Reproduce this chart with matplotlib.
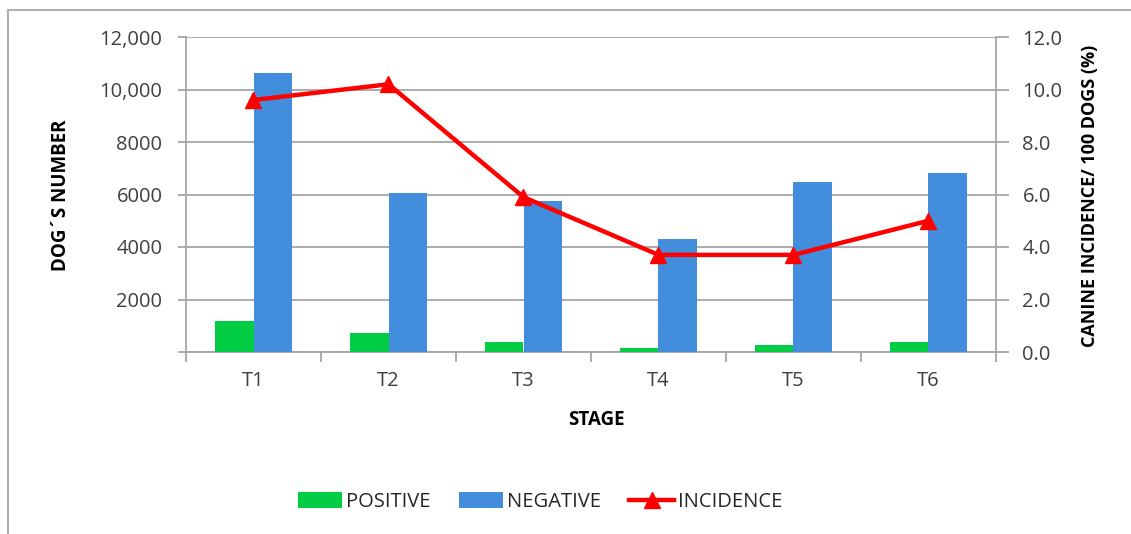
import matplotlib
matplotlib.use("Agg")
import matplotlib.pyplot as plt
import numpy as np
from matplotlib.lines import Line2D
from matplotlib.patches import Patch
from matplotlib.ticker import FixedLocator, FixedFormatter

stages = ["T1", "T2", "T3", "T4", "T5", "T6"]
positive = [1170, 740, 380, 170, 270, 380]
negative = [10640, 6060, 5760, 4300, 6480, 6830]
incidence = [9.6, 10.2, 5.9, 3.7, 3.7, 5.0]

left_ticks = [0, 2000, 4000, 6000, 8000, 10000, 12000]
left_labels = ["", "2000", "4000", "6000", "8000", "10,000", "12,000"]
right_ticks = [0, 2, 4, 6, 8, 10, 12]

GREEN = "#00cc44"
BLUE = "#428ddc"
RED = "#ff0000"
GRID = "#a6a6a6"
TXT = "#404040"

plt.rcParams["font.family"] = ["Open Sans", "DejaVu Sans"]

W, H = 1131, 534
fig = plt.figure(figsize=(W / 100, H / 100), dpi=100)

def fx(px):
    return px / W

def fy(py):
    return 1 - py / H

ax = fig.add_axes([fx(186), fy(352), fx(996) - fx(186), fy(37) - fy(352)])
ax2 = ax.twinx()

x = np.arange(len(stages))
bw = 1 / 3.5
ax.bar(x - bw / 2, positive, width=bw, color=GREEN, zorder=3)
ax.bar(x + bw / 2, negative, width=bw, color=BLUE, zorder=3)

ax.set_xlim(-0.5, len(stages) - 0.5)
ax.set_ylim(0, 12000)
ax.yaxis.set_major_locator(FixedLocator(left_ticks))
ax.yaxis.set_major_formatter(FixedFormatter(left_labels))
ax.grid(axis="y", color=GRID, linewidth=1.3, zorder=0)
ax.set_axisbelow(True)

# category boundaries carry the ticks, labels sit at the centres
ax.set_xticks(np.arange(len(stages) + 1) - 0.5)
ax.set_xticklabels([])
ax.set_xticks(x, minor=True)
ax.set_xticklabels(stages, minor=True)
ax.tick_params(axis="x", which="major", length=7, width=1.3, color=GRID)
ax.tick_params(axis="x", which="minor", length=0, pad=14, labelsize=14.5, labelcolor=TXT)
ax.tick_params(axis="y", length=6, width=1.3, color=GRID, pad=11, labelsize=14.5, labelcolor=TXT)

ax.spines["top"].set_visible(False)
ax2.spines["top"].set_visible(False)
for sp in [ax.spines["left"], ax.spines["bottom"], ax2.spines["right"]]:
    sp.set_color(GRID)
    sp.set_linewidth(1.3)
ax2.spines["left"].set_visible(False)
ax2.spines["bottom"].set_visible(False)
ax.spines["right"].set_visible(False)

ax2.plot(x, incidence, color=RED, linewidth=3.2, marker="^", markersize=12, zorder=5)
ax2.set_ylim(0, 12)
ax2.set_yticks(right_ticks)
ax2.set_yticklabels([f"{v:.1f}" for v in right_ticks])
ax2.tick_params(axis="y", length=9, width=1.3, color=GRID, pad=10, labelsize=14.5, labelcolor=TXT)

fig.text(fx(61), fy(195), "DOG\u00b4S NUMBER", rotation=90, ha="center", va="center",
         fontsize=13.5, fontweight="bold", color="black")
fig.text(fx(1090), fy(196), "CANINE INCIDENCE/ 100 DOGS (%)", rotation=90, ha="center",
         va="center", fontsize=13, fontweight="bold", color="black")
fig.text(fx(596), fy(420), "STAGE", ha="center", va="center", fontsize=13.5,
         fontweight="bold", color="black")

handles = [
    Patch(facecolor=GREEN, edgecolor="none"),
    Patch(facecolor=BLUE, edgecolor="none"),
    Line2D([], [], color=RED, linewidth=3.2, marker="^", markersize=12),
]
fig.legend(handles, ["POSITIVE", "NEGATIVE", "INCIDENCE"], loc="center",
           bbox_to_anchor=(fx(540), fy(502)), ncol=3, frameon=False,
           fontsize=14.5, handlelength=2.2, handleheight=0.8, handletextpad=0.2,
           columnspacing=1.4, labelcolor="#262626")

# chart frame
fig.add_artist(Line2D([fx(8), fx(8)], [fy(10), 0], color="#b0b0b0", linewidth=1.5,
                      transform=fig.transFigure))
fig.add_artist(Line2D([fx(8), 1], [fy(10), fy(10)], color="#b0b0b0", linewidth=1.5,
                      transform=fig.transFigure))

fig.savefig("out.png", dpi=100)
